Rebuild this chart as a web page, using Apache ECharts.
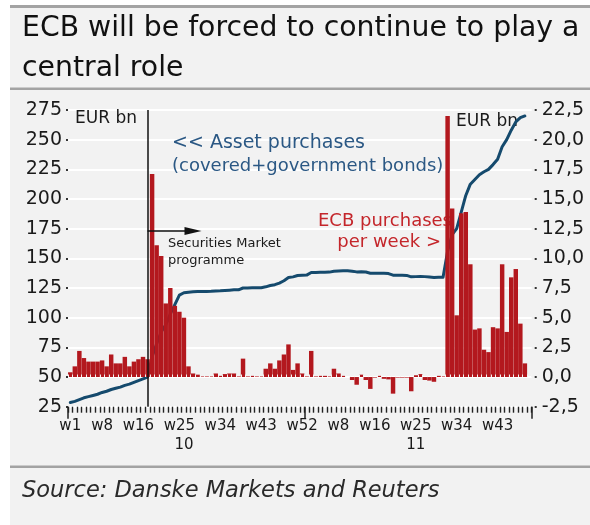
<!DOCTYPE html>
<html>
<head>
<meta charset="utf-8">
<script src="https://cdn.jsdelivr.net/npm/echarts@6/dist/echarts.min.js"></script>
<style>
  html, body { margin: 0; padding: 0; background: #ffffff; }
  #chart { width: 590px; height: 525px; }
</style>
</head>
<body>
<div id="chart"></div>
<script>
// Weekly categories: 2010 w1-w52, 2011 w1-w50
const years = ['10', '11'];
const weeksInYear = [52, 50];

// ECB purchases per week, EUR bn (right axis)
const weeklyPurchases = [
  0.4, 0.9, 2.2, 1.6, 1.3, 1.3, 1.3, 1.4, 0.9, 1.9,
  1.15, 1.15, 1.7, 0.9, 1.3, 1.5, 1.7, 1.5, 17.1, 11.1,
  10.2, 6.2, 7.5, 6.0, 5.5, 5.0, 0.9, 0.3, 0.2, 0.05,
  0.05, 0.05, 0.3, 0.1, 0.25, 0.3, 0.3, 0.05, 1.55, 0.05,
  0.1, 0.05, 0.05, 0.7, 1.15, 0.7, 1.4, 1.9, 2.75, 0.6,
  1.15, 0.3, 0.05, 2.2, 0.05, 0.1, 0.1, 0.05, 0.7, 0.3,
  0.1, 0.0, -0.25, -0.65, 0.2, -0.25, -1.0, -0.05, 0.1, -0.15,
  -0.2, -1.4, -0.05, -0.05, -0.05, -1.2, 0.15, 0.25, -0.25, -0.3,
  -0.4, 0.1, 0.05, 22.0, 14.2, 5.2, 13.8, 13.9, 9.5, 4.0,
  4.1, 2.3, 2.1, 4.2, 4.1, 9.5, 3.8, 8.4, 9.1, 4.5,
  1.15, null
];

// Asset purchases, covered + government bonds, EUR bn (left axis)
const assetPurchases = [
  28.5, 29.5, 31, 32.5, 33.5, 34.5, 35.5, 37, 38, 39.5,
  40.5, 41.5, 43, 44, 45.5, 47, 48.5, 50, 67, 78,
  88, 94, 103, 111, 119, 121, 121.5, 121.8, 122, 122,
  122.1, 122.2, 122.5, 122.6, 122.9, 123.2, 123.5, 123.5, 125, 125.1,
  125.2, 125.2, 125.3, 126, 127.1, 127.8, 129.2, 131.1, 133.8, 134.4,
  135.5, 135.8, 135.9, 138.1, 138.1, 138.2, 138.3, 138.4, 139.1, 139.4,
  139.5, 139.5, 139.2, 138.6, 138.8, 138.5, 137.5, 137.4, 137.5, 137.4,
  137.2, 135.8, 135.7, 135.7, 135.6, 134.4, 134.6, 134.8, 134.6, 134.3,
  133.9, 134, 134.1, 156, 170, 175, 189, 203, 212.5, 216.5,
  220.5, 223, 225, 229, 233.5, 244, 250, 258, 265, 268.5,
  270, null
];

// Tick labels on the week axis (category indexes) and the year row
const weekLabelIndexes = [0, 7, 15, 24, 33, 42, 51, 59, 67, 76, 85, 94];
const yearLabelIndexes = [25, 76];
const yearStartIndexes = [0, 52];

// Start of the Securities Market programme (category index)
const smpStartIndex = 17;
const smpArrowEndIndex = 27;
const smpArrowLevel = 12.3;

const categories = [];
years.forEach((y, i) => {
  for (let w = 1; w <= weeksInYear[i]; w++) categories.push(y + '|w' + w);
});

const FONT = '"DejaVu Sans", sans-serif';
const INK = '#1a1a1a';

const chart = echarts.init(document.getElementById('chart'), null, { renderer: 'canvas' });

const text = (str, x, y, size, color, extra) => ({
  type: 'text', z: 0.5, silent: true,
  style: Object.assign({
    text: str, x: x, y: y, fill: color,
    font: size + 'px ' + FONT, verticalAlign: 'middle', align: 'left'
  }, extra || {})
});

chart.setOption({
  animation: false,
  backgroundColor: '#ffffff',
  textStyle: { fontFamily: FONT },
  grid: { left: 68, top: 110, width: 463.7, height: 296.7, containLabel: false },
  xAxis: [
    {
      // week axis along the bottom of the plot
      type: 'category',
      data: categories,
      position: 'bottom',
      axisLine: { show: false, onZero: false },
      axisTick: { show: true, interval: 0, length: 6, lineStyle: { color: '#222222', width: 1.4 } },
      axisLabel: {
        interval: (idx) => weekLabelIndexes.indexOf(idx) >= 0,
        formatter: (v) => v.split('|')[1],
        fontSize: 15, color: INK, margin: 12, fontFamily: FONT
      },
      splitLine: { show: false }
    },
    {
      // year row with longer separators at each year start
      type: 'category',
      data: categories,
      position: 'bottom',
      axisLine: { show: false, onZero: false },
      axisTick: {
        show: true,
        interval: (idx) => yearStartIndexes.indexOf(idx) >= 0,
        length: 12, lineStyle: { color: '#222222', width: 1.5 }
      },
      axisLabel: {
        interval: (idx) => yearLabelIndexes.indexOf(idx) >= 0,
        formatter: (v) => v.split('|')[0],
        fontSize: 15, color: INK, margin: 31, fontFamily: FONT
      },
      splitLine: { show: false }
    },
    {
      // small white notches along the zero line of the weekly bars
      type: 'category',
      data: categories,
      position: 'bottom',
      z: 3,
      axisLine: { show: false, onZero: true, onZeroAxisIndex: 1 },
      axisTick: { show: true, inside: true, interval: 0, length: 2.5, lineStyle: { color: '#f4f4f4', width: 1 } },
      axisLabel: { show: false },
      splitLine: { show: false }
    }
  ],
  yAxis: [
    {
      type: 'value', position: 'left',
      min: 25, max: 275, interval: 25,
      axisLine: { show: false },
      axisTick: { show: true, length: 2, lineStyle: { color: '#333', width: 2 } },
      axisLabel: { fontSize: 19, color: INK, margin: 6, fontFamily: FONT },
      splitLine: { show: true, lineStyle: { color: '#ffffff', width: 2 } }
    },
    {
      type: 'value', position: 'right', offset: 3,
      min: -2.5, max: 22.5, interval: 2.5,
      axisLine: { show: false },
      axisTick: { show: true, length: 2, lineStyle: { color: '#333', width: 2 } },
      axisLabel: {
        fontSize: 19, color: INK, margin: 7, fontFamily: FONT,
        formatter: (v) => v.toFixed(1).replace('.', ',')
      },
      splitLine: { show: false }
    }
  ],
  series: [
    {
      name: 'Asset purchases',
      type: 'line',
      xAxisIndex: 0, yAxisIndex: 0,
      z: 1,
      data: assetPurchases,
      symbol: 'none',
      lineStyle: { color: '#154a6d', width: 3, cap: 'round', join: 'round' }
    },
    {
      name: 'ECB purchases per week',
      type: 'bar',
      xAxisIndex: 0, yAxisIndex: 1,
      z: 2,
      data: weeklyPurchases,
      barCategoryGap: '2%',
      itemStyle: { color: '#b3181e' },
      markLine: {
        silent: true,
        animation: false,
        symbol: 'none',
        label: { show: false },
        lineStyle: { color: '#111111', width: 1.5, type: 'solid' },
        data: [
          { xAxis: smpStartIndex },
          [
            { coord: [smpStartIndex, smpArrowLevel], symbol: 'none' },
            { coord: [smpArrowEndIndex, smpArrowLevel], symbol: 'triangle', symbolSize: [8, 17] }
          ]
        ]
      }
    }
  ],
  graphic: [
    // panel, rules and titles
    { type: 'rect', z: -10, silent: true, shape: { x: 10, y: 5, width: 580, height: 520 }, style: { fill: '#f2f2f2' } },
    { type: 'rect', z: -9, silent: true, shape: { x: 10, y: 5, width: 580, height: 3 }, style: { fill: '#a3a3a3' } },
    { type: 'rect', z: -9, silent: true, shape: { x: 10, y: 87.5, width: 580, height: 2.5 }, style: { fill: '#a3a3a3' } },
    { type: 'rect', z: -9, silent: true, shape: { x: 10, y: 465.5, width: 580, height: 2.5 }, style: { fill: '#a3a3a3' } },
    text('ECB will be forced to continue to play a', 22, 29, 28.3, '#111111'),
    text('central role', 22, 69, 28.3, '#111111'),
    text('Source: Danske Markets and Reuters', 22, 491, 22.5, '#2a2a2a', { font: 'italic 22.5px ' + FONT }),
    // annotations inside the plot
    text('EUR bn', 75, 119, 17, INK),
    text('<< Asset purchases', 172, 143, 19, '#2b5884'),
    text('(covered+government bonds)', 172, 166, 18, '#2b5884'),
    text('Securities Market', 168, 244, 13, INK),
    text('programme', 168, 261, 13, INK),
    text('ECB purchases', 452, 221, 18, '#c4262b', { align: 'right' }),
    text('per week >', 441, 242, 18, '#c4262b', { align: 'right' }),
    text('EUR bn', 456, 122, 17, INK)
  ]
});
</script>
</body>
</html>
